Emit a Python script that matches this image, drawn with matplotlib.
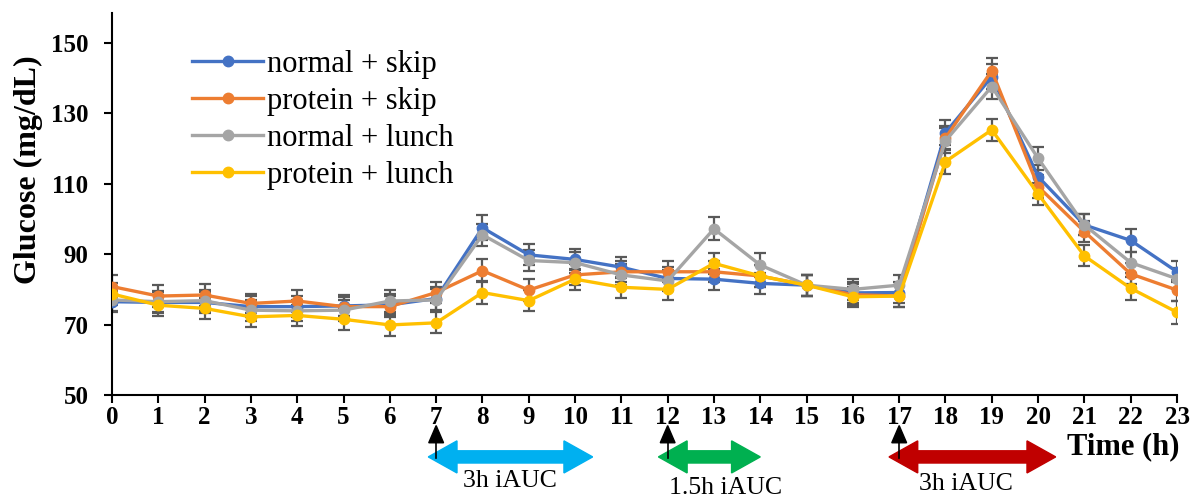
import numpy as np
import matplotlib.pyplot as plt
from matplotlib.patches import Polygon
import matplotlib.transforms as mtransforms

plt.rcParams['font.family'] = ['Liberation Serif', 'DejaVu Serif']

hours = list(range(24))
normal_skip = [76.5, 76.3, 76.3, 75.1, 75.1, 75.3, 75.6, 77.4, 97.5, 89.8, 88.5, 86.3,
               83.1, 82.9, 81.7, 81.2, 79.0, 79.1, 124.5, 140.4, 112.0, 98.3, 93.9, 85.0]
protein_skip = [80.8, 78.1, 78.4, 76.0, 76.7, 75.1, 75.1, 79.1, 85.3, 79.8, 84.1, 85.0,
                85.0, 85.0, 83.8, 81.2, 78.5, 78.1, 123.0, 142.1, 109.2, 96.4, 84.4, 79.8]
normal_lunch = [77.0, 76.5, 76.8, 74.1, 73.9, 74.1, 76.7, 77.0, 95.5, 88.2, 87.6, 84.1,
                82.4, 97.2, 86.9, 81.2, 80.0, 81.2, 122.2, 137.6, 117.2, 98.3, 87.6, 83.0]
protein_lunch = [78.7, 75.5, 74.6, 72.2, 72.6, 71.5, 69.9, 70.5, 79.1, 76.8, 82.9, 80.6,
                 80.0, 87.4, 83.8, 81.2, 77.9, 78.1, 116.3, 125.3, 107.1, 89.5, 80.3, 73.5]
err_ns = [3.0, 3.0, 3.0, 3.0, 3.0, 3.0, 3.0, 3.2, 3.5, 3.0, 3.0, 3.0,
          3.2, 3.0, 3.0, 3.0, 3.0, 3.0, 3.5, 3.5, 3.2, 3.0, 3.2, 3.0]
err_ps = [3.3, 3.0, 3.0, 2.8, 3.0, 2.8, 3.0, 3.0, 3.2, 3.2, 3.0, 3.0,
          3.0, 3.0, 3.0, 3.0, 3.0, 3.0, 3.5, 3.5, 3.2, 3.0, 3.0, 3.0]
err_nl = [3.0, 3.0, 3.0, 3.0, 3.0, 3.0, 3.0, 3.0, 3.2, 3.0, 3.0, 3.0,
          3.0, 3.3, 3.3, 3.0, 3.0, 3.0, 3.5, 3.5, 3.3, 3.0, 3.0, 3.0]
err_pl = [3.0, 3.0, 3.0, 3.0, 3.0, 3.0, 3.0, 3.0, 3.2, 3.0, 3.0, 3.0,
          3.0, 3.0, 3.0, 3.0, 2.8, 3.0, 3.5, 3.2, 3.0, 3.0, 3.2, 3.2]
labels = ['normal + skip', 'protein + skip', 'normal + lunch', 'protein + lunch']
colors = ['#4472C4', '#ED7D31', '#A5A5A5', '#FFC000']

fig = plt.figure(figsize=(11.93, 4.98), dpi=100)
ax = fig.add_axes([0.0939, 0.2068, 0.8927, 0.7672])

for y, e, lab, c in zip([normal_skip, protein_skip, normal_lunch, protein_lunch],
                        [err_ns, err_ps, err_nl, err_pl], labels, colors):
    ax.errorbar(hours, y, yerr=e, fmt='none', ecolor='#595959', elinewidth=1.6,
                capsize=4.5, capthick=1.6, zorder=2)
    ax.plot(hours, y, color=c, lw=2.4, marker='o', ms=7.5, label=lab, zorder=3)

ax.set_xlim(0, 23)
ax.set_ylim(50, 158.5)
ax.set_xticks(hours)
ax.set_yticks([50, 70, 90, 110, 130, 150])
ax.tick_params(axis='both', direction='out', length=6, width=1.5, labelsize=18)
ax.tick_params(axis='y', pad=11)
ax.tick_params(axis='x', pad=2)
for t in ax.get_xticklabels() + ax.get_yticklabels():
    t.set_fontweight('bold')
ax.spines['top'].set_visible(False)
ax.spines['right'].set_visible(False)
ax.spines['left'].set_linewidth(1.5)
ax.spines['bottom'].set_linewidth(1.5)
fig.text(0.024, 0.66, 'Glucose (mg/dL)', fontsize=23, fontweight='bold', rotation=90,
         ha='center', va='center')
fig.text(0.989, 0.102, 'Time (h)', fontsize=22, fontweight='bold', ha='right', va='center')

ax.legend(loc='upper left', bbox_to_anchor=(0.064, 0.935), frameon=False, fontsize=22,
          handlelength=2.3, handletextpad=0.15, labelspacing=0.26, borderaxespad=0)

# iAUC double arrows below the axis
trans = mtransforms.blended_transform_factory(ax.transData, ax.transAxes)
def double_arrow(x0, x1, color):
    yc, hb, hh, L = -0.162, 0.016, 0.042, 0.62
    pts = [(x0, yc), (x0 + L, yc + hh), (x0 + L, yc + hb), (x1 - L, yc + hb),
           (x1 - L, yc + hh), (x1, yc), (x1 - L, yc - hh), (x1 - L, yc - hb),
           (x0 + L, yc - hb), (x0 + L, yc - hh)]
    ax.add_patch(Polygon(pts, closed=True, color=color, transform=trans, clip_on=False, zorder=4))

double_arrow(6.83, 10.38, '#00B0F0')
double_arrow(11.8, 14.0, '#00B050')
double_arrow(16.78, 20.38, '#C00000')

for xm in [7, 12, 17]:
    ax.plot([xm, xm], [-0.12, -0.165], color='black', lw=1.2, transform=trans,
            clip_on=False, zorder=5)
    ax.add_patch(Polygon([(xm - 0.16, -0.125), (xm + 0.16, -0.125), (xm, -0.08)],
                         closed=True, color='black', transform=trans, clip_on=False, zorder=5))

ax.text(8.6, -0.225, '3h iAUC', fontsize=18.5, ha='center', va='center', transform=trans)
ax.text(13.25, -0.243, '1.5h iAUC', fontsize=18.5, ha='center', va='center', transform=trans)
ax.text(18.44, -0.233, '3h iAUC', fontsize=18.5, ha='center', va='center', transform=trans)

fig.savefig('out.png', dpi=100)
